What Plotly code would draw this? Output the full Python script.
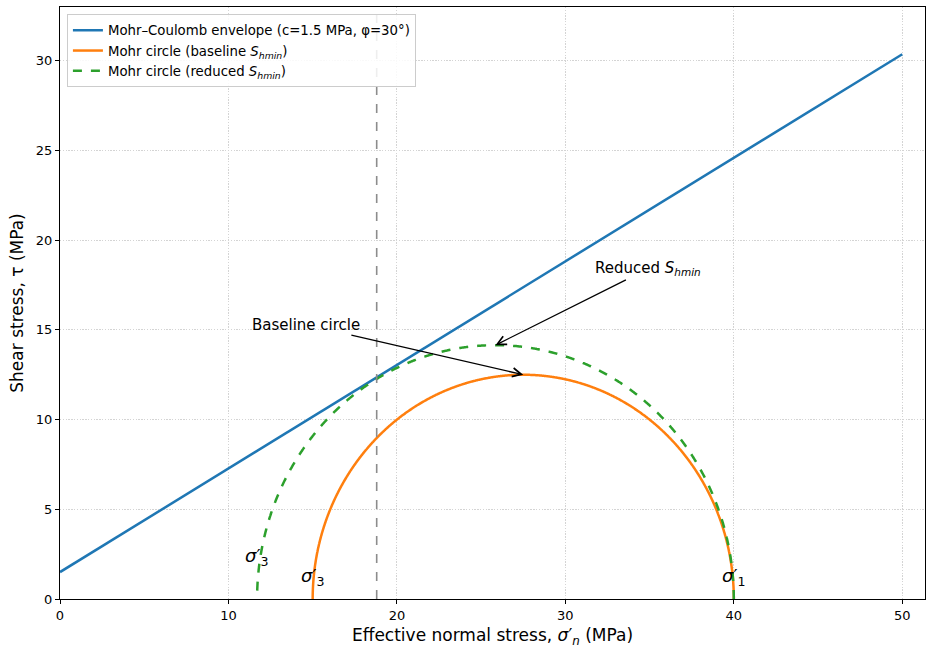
import numpy as np
import plotly.graph_objects as go

# Mohr–Coulomb parameters (MPa, degrees)
cohesion = 1.5
friction_deg = 30.0
sigma_n_env = [0.0, 50.0]

# Principal effective stresses (MPa)
sigma1 = 40.0
sigma3_baseline = 15.0
sigma3_reduced = 11.7
sigma_n_contact = 18.8

# Annotation anchors (MPa)
baseline_label_xy = [14.6, 15.3]
reduced_label_xy = [34.9, 18.4]

FONT = "DejaVu Sans, Arial, sans-serif"
BLUE, ORANGE, GREEN = "#1f77b4", "#ff7f0e", "#2ca02c"

tan_phi = np.tan(np.radians(friction_deg))
tau_env = [cohesion + s * tan_phi for s in sigma_n_env]


def mohr_circle(s1, s3, n=721):
    centre, radius = (s1 + s3) / 2.0, (s1 - s3) / 2.0
    theta = np.linspace(0.0, np.pi, n)
    return centre + radius * np.cos(theta), radius * np.sin(theta), centre, radius


xb, yb, cb, rb = mohr_circle(sigma1, sigma3_baseline)
xr, yr, cr, rr = mohr_circle(sigma1, sigma3_reduced)

S_HMIN = "<i>S</i><sub><i>hmin</i></sub>"

fig = go.Figure()
fig.add_trace(go.Scatter(
    x=sigma_n_env, y=tau_env, mode="lines",
    line=dict(color=BLUE, width=2.5),
    name="Mohr–Coulomb envelope (c=1.5 MPa, φ=30°)"))
fig.add_trace(go.Scatter(
    x=xb, y=yb, mode="lines", line=dict(color=ORANGE, width=2.5, shape="spline"),
    name=f"Mohr circle (baseline {S_HMIN})"))
fig.add_trace(go.Scatter(
    x=xr, y=yr, mode="lines", line=dict(color=GREEN, width=2.5, dash="dash", shape="spline"),
    name=f"Mohr circle (reduced {S_HMIN})"))

# vertical marker where the reduced circle meets the envelope
fig.add_shape(type="line", xref="x", yref="paper",
              x0=sigma_n_contact, x1=sigma_n_contact, y0=0, y1=1,
              line=dict(color="#8c8c8c", width=1.6, dash="dash"))

arrow_common = dict(showarrow=True, arrowhead=5, arrowsize=1.35, arrowwidth=1.3,
                    arrowcolor="black", axref="x", ayref="y",
                    font=dict(family=FONT, size=15, color="black"))
fig.add_annotation(x=cb, y=rb, ax=baseline_label_xy[0], ay=baseline_label_xy[1],
                   text="Baseline circle", **arrow_common)
fig.add_annotation(x=cr, y=rr, ax=reduced_label_xy[0], ay=reduced_label_xy[1],
                   text=f"Reduced {S_HMIN}", **arrow_common)

sig_font = dict(family=FONT, size=18, color="black")
fig.add_annotation(x=sigma3_baseline, y=1.2, text="<i>σ</i>′<sub>3</sub>",
                   showarrow=False, font=sig_font)
fig.add_annotation(x=sigma3_reduced, y=2.35, text="<i>σ</i>′<sub>3</sub>",
                   showarrow=False, font=sig_font)
fig.add_annotation(x=sigma1, y=1.2, text="<i>σ</i>′<sub>1</sub>",
                   showarrow=False, font=sig_font)

axis_common = dict(
    showline=True, linecolor="black", linewidth=1.2, mirror=True,
    ticks="outside", ticklen=4, tickwidth=1, tickcolor="black",
    showgrid=True, gridcolor="#d4d4d4", griddash="1.3px,1.5px", gridwidth=1,
    zeroline=False, tickfont=dict(family=FONT, size=13, color="black"))

fig.update_xaxes(range=[0, 51.35], dtick=10,
                 title=dict(text="Effective normal stress, <i>σ</i>′<sub><i>n</i></sub> (MPa)",
                            font=dict(family=FONT, size=17, color="black"), standoff=8),
                 **axis_common)
fig.update_yaxes(range=[0, 33], dtick=5,
                 title=dict(text="Shear stress, τ (MPa)",
                            font=dict(family=FONT, size=17, color="black"), standoff=7),
                 **axis_common)

fig.update_layout(
    width=926, height=648,
    margin=dict(l=60, r=1, t=7, b=49),
    paper_bgcolor="white", plot_bgcolor="white",
    font=dict(family=FONT, size=13, color="black"),
    legend=dict(x=0.008, y=0.988, xanchor="left", yanchor="top",
                bgcolor="rgba(255,255,255,0.85)", bordercolor="#cccccc", borderwidth=1,
                font=dict(family=FONT, size=13.3, color="black"),
                tracegroupgap=0, itemwidth=30),
    showlegend=True,
)

fig.write_html("out.html")
